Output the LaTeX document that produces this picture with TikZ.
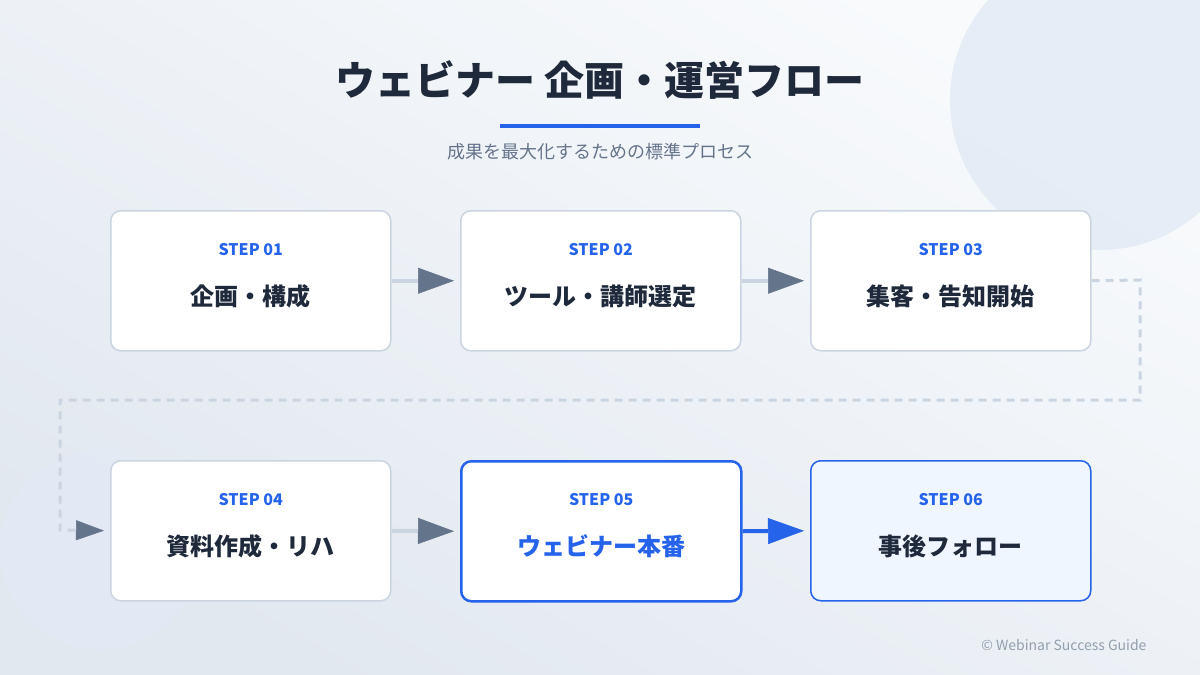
\documentclass[tikz,border=0pt]{standalone}
\usepackage{fontspec}
\setmainfont{Noto Sans CJK JP}
\usetikzlibrary{arrows.meta}
\definecolor{dark}{HTML}{1E293B}
\definecolor{gray}{HTML}{64748B}
\definecolor{lgray}{HTML}{CBD5E1}
\definecolor{blue}{HTML}{2563EB}
\definecolor{bgA}{HTML}{F8FAFC}
\definecolor{bgB}{HTML}{E2E8F0}
\definecolor{circ}{HTML}{E3EAF5}
\definecolor{lblue}{HTML}{EFF6FF}
\begin{document}
\begin{tikzpicture}[x=1pt,y=-1pt,
 box/.style={draw=lgray,line width=1.5pt,fill=white,rounded corners=10pt,minimum width=280pt,minimum height=140pt,anchor=north west},
 steplbl/.style={text=blue,font=\bfseries\fontsize{16}{18}\selectfont},
 lab/.style={text=dark,font=\bfseries\fontsize{24}{28}\selectfont},
 con/.style={draw=lgray,line width=4pt,-{Triangle[length=36pt,width=26pt,color=gray,line width=0.5pt]},shorten >=6pt},
 bcon/.style={draw=blue,line width=4pt,-{Triangle[length=36pt,width=26pt,color=blue,line width=0.5pt]},shorten >=6pt}]
\useasboundingbox (0,0) rectangle (1200,675);
\shade[top color=bgA,bottom color=bgB,shading angle=-30] (0,0) rectangle (1200,675);
\begin{scope}
\clip (0,0) rectangle (1200,675);
\fill[circ,opacity=0.8] (1100,100) circle (150);
\fill[circ,opacity=0.8] (100,550) circle (100);
\end{scope}
\node[text=dark,font=\bfseries\fontsize{40}{46}\selectfont] (title) at (600,80) {ウェビナー 企画・運営フロー};
\fill[blue] (500,124) rectangle (700,128);
\node[text=gray,font=\fontsize{18}{22}\selectfont] (sub) at (600,152) {成果を最大化するための標準プロセス};
\node[box] (b1) at (110,210) {};
\node[box] (b2) at (460,210) {};
\node[box] (b3) at (810,210) {};
\node[box] (b4) at (110,460) {};
\node[box,draw=blue,line width=2.5pt] (b5) at (460,460) {};
\node[box,draw=blue,fill=lblue] (b6) at (810,460) {};
\foreach \b/\n/\t in {b1/01/企画・構成,b2/02/ツール・講師選定,b3/03/集客・告知開始,b4/04/資料作成・リハ,b6/06/事後フォロー}{
 \node[steplbl] (\b s) at ([yshift=-40pt]\b.north) {STEP \n};
 \node[lab] (\b t) at ([yshift=-86pt]\b.north) {\t};
}
\node[steplbl] (b5s) at ([yshift=-40pt]b5.north) {STEP 05};
\node[lab,text=blue] (b5t) at ([yshift=-86pt]b5.north) {ウェビナー本番};
\draw[con] (b1.east) -- (b2.west);
\draw[con] (b2.east) -- (b3.west);
\draw[con] (b4.east) -- (b5.west);
\draw[bcon] (b5.east) -- (b6.west);
\coordinate (d1) at (1140,280);
\coordinate (d2) at (1140,400);
\coordinate (d3) at (60,400);
\coordinate (d4) at (60,530);
\draw[lgray,line width=3pt,dash pattern=on 8pt off 6pt,-{Triangle[length=28pt,width=20pt,color=gray,line width=0.5pt]},shorten >=6pt] (b3.east) -- (d1) -- (d2) -- (d3) -- (d4) -- (b4.west);
\node[text=gray!70,font=\fontsize{14}{16}\selectfont,anchor=east] (foot) at (1150,645) {© Webinar Success Guide};
\end{tikzpicture}
\end{document}
